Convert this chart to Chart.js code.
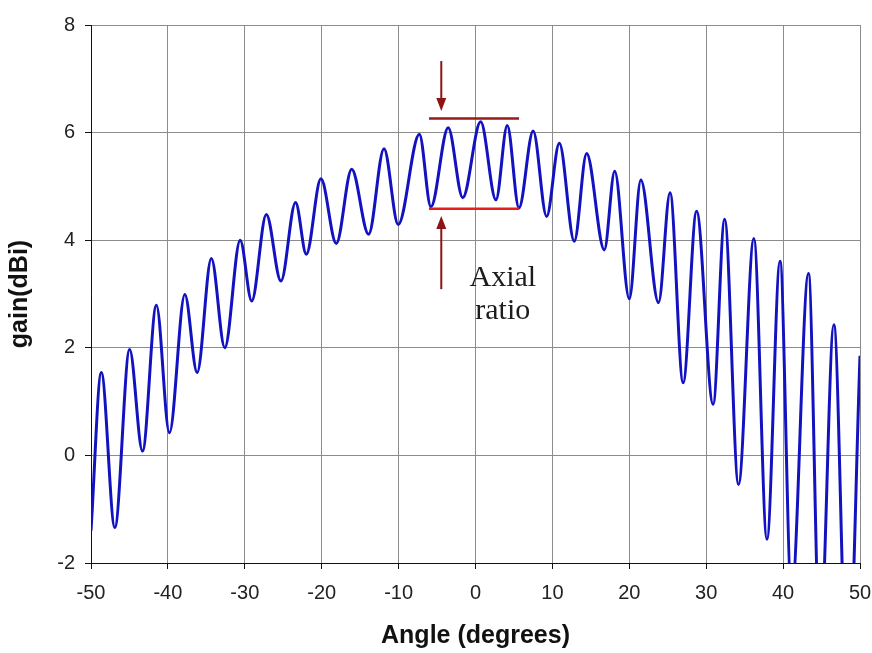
<!DOCTYPE html>
<html>
<head>
<meta charset="utf-8">
<script src="https://cdn.jsdelivr.net/npm/chart.js@4.4.1/dist/chart.umd.min.js"></script>
<style>
  html, body { margin: 0; padding: 0; background: #fff; }
  #wrap { width: 872px; height: 653px; }
</style>
</head>
<body>
<div id="wrap"><canvas id="gain-chart" width="872" height="653"></canvas></div>
<script>
// pattern cut: angle of each peak / trough and its gain
let angles = [-50, -48.66, -46.9, -44.98, -43.3, -41.5, -39.8, -37.8, -36.2, -34.35, -32.6,
  -30.6, -29.1, -27.2, -25.3, -23.4, -22.0, -20.1, -18.1, -16.1, -13.9, -11.9, -10.05,
  -7.3, -5.8, -3.55, -1.66, 0.67, 2.66, 4.13, 5.65, 7.5, 9.25, 10.9, 12.85, 14.45, 16.75,
  18.1, 20.0, 21.5, 23.8, 25.3, 27.0, 28.75, 30.9, 32.4, 34.2, 36.2, 37.9, 39.6, 41.1,
  43.3, 44.8, 46.6, 48.4, 50];
let gains = [-1.40, 1.54, -1.34, 1.97, 0.08, 2.79, 0.42, 2.99, 1.54, 3.66, 2.00,
  4.00, 2.87, 4.48, 3.24, 4.70, 3.74, 5.14, 3.94, 5.32, 4.11, 5.70, 4.29,
  5.97, 4.62, 6.09, 4.79, 6.20, 4.75, 6.13, 4.60, 6.03, 4.44, 5.80, 3.98, 5.61, 3.82,
  5.28, 2.91, 5.12, 2.84, 4.88, 1.35, 4.54, 0.95, 4.39, -0.54, 4.03, -1.56, 3.61, -2.6,
  3.38, -3.5, 2.43, -4.5, 1.85];

let xTicks = [-50, -40, -30, -20, -10, 0, 10, 20, 30, 40, 50];
let yTicks = [-2, 0, 2, 4, 6, 8];

// axial ratio markers (data units)
let levelSpan = [-6.05, 5.66];
let maxLevel = 6.26;
let minLevel = 4.585;
let arrowX = -4.45;
let downArrow = [7.33, 6.40];
let upArrow = [3.09, 4.45];
let noteLines = ['Axial', 'ratio'];
let noteX = 3.55;
let noteY = [3.14, 2.53];

let points = [];
for (let i = 0; i < angles.length; i++) {
  points.push({x: angles[i], y: gains[i]});
}

function arrow(ctx, x, y0, y1) {
  let dir = y1 > y0 ? 1 : -1;
  ctx.beginPath();
  ctx.moveTo(x, y0);
  ctx.lineTo(x, y1 - dir * 8);
  ctx.stroke();
  ctx.beginPath();
  ctx.moveTo(x, y1);
  ctx.lineTo(x - 5, y1 - dir * 13);
  ctx.lineTo(x + 5, y1 - dir * 13);
  ctx.closePath();
  ctx.fill();
}

const notes = {
  id: 'notes',
  afterDatasetsDraw(chart) {
    let ctx = chart.ctx;
    let xs = chart.scales.x;
    let ys = chart.scales.y;
    ctx.save();
    ctx.lineWidth = 2.5;
    ctx.strokeStyle = '#971b1b';
    ctx.beginPath();
    ctx.moveTo(xs.getPixelForValue(levelSpan[0]), ys.getPixelForValue(maxLevel));
    ctx.lineTo(xs.getPixelForValue(levelSpan[1]), ys.getPixelForValue(maxLevel));
    ctx.stroke();
    ctx.strokeStyle = '#e61e1e';
    ctx.beginPath();
    ctx.moveTo(xs.getPixelForValue(levelSpan[0]), ys.getPixelForValue(minLevel));
    ctx.lineTo(xs.getPixelForValue(levelSpan[1]), ys.getPixelForValue(minLevel));
    ctx.stroke();

    ctx.strokeStyle = '#8e1414';
    ctx.fillStyle = '#8e1414';
    ctx.lineWidth = 2;
    let ax = xs.getPixelForValue(arrowX);
    arrow(ctx, ax, ys.getPixelForValue(downArrow[0]), ys.getPixelForValue(downArrow[1]));
    arrow(ctx, ax, ys.getPixelForValue(upArrow[0]), ys.getPixelForValue(upArrow[1]));

    ctx.fillStyle = '#1c1c1c';
    ctx.font = '30px "Liberation Serif", "Times New Roman", serif';
    ctx.textAlign = 'center';
    ctx.textBaseline = 'alphabetic';
    for (let i = 0; i < noteLines.length; i++) {
      ctx.fillText(noteLines[i], xs.getPixelForValue(noteX), ys.getPixelForValue(noteY[i]));
    }
    ctx.restore();
  }
};

new Chart(document.getElementById('gain-chart'), {
  type: 'line',
  data: {
    datasets: [{
      data: points,
      borderColor: '#1212c0',
      borderWidth: 3,
      pointRadius: 0,
      fill: false,
      cubicInterpolationMode: 'monotone',
      clip: 0
    }]
  },
  options: {
    responsive: false,
    animation: false,
    events: [],
    layout: { padding: { top: 25, right: 0, left: 0, bottom: 0 } },
    plugins: {
      legend: { display: false },
      tooltip: { enabled: false }
    },
    scales: {
      x: {
        type: 'linear',
        min: -50,
        max: 50,
        afterFit(scale) {
          scale.height = 90;
          scale.paddingRight = 12;
        },
        afterBuildTicks(scale) { scale.ticks = xTicks.map(v => ({value: v})); },
        grid: { color: '#8c8c8c', lineWidth: 1, tickLength: 6, tickColor: '#111' },
        border: { color: '#111', width: 1 },
        ticks: {
          padding: 12,
          maxRotation: 0,
          color: '#222',
          font: { family: 'Arial, "Liberation Sans"', size: 20 }
        },
        title: {
          display: true,
          text: 'Angle (degrees)',
          color: '#111',
          padding: { top: 0, bottom: 2 },
          font: { family: 'Arial, "Liberation Sans"', size: 25, weight: 'bold' }
        }
      },
      y: {
        min: -2,
        max: 8,
        afterFit(scale) { scale.width = 91; },
        afterBuildTicks(scale) { scale.ticks = yTicks.map(v => ({value: v})); },
        grid: { color: '#8c8c8c', lineWidth: 1, tickLength: 6, tickColor: '#111' },
        border: { color: '#111', width: 1 },
        ticks: {
          padding: 10,
          color: '#222',
          font: { family: 'Arial, "Liberation Sans"', size: 20 }
        },
        title: {
          display: true,
          text: 'gain(dBi)',
          color: '#111',
          padding: { top: 5, bottom: 0 },
          font: { family: 'Arial, "Liberation Sans"', size: 25, weight: 'bold' }
        }
      }
    }
  },
  plugins: [notes]
});
</script>
</body>
</html>
